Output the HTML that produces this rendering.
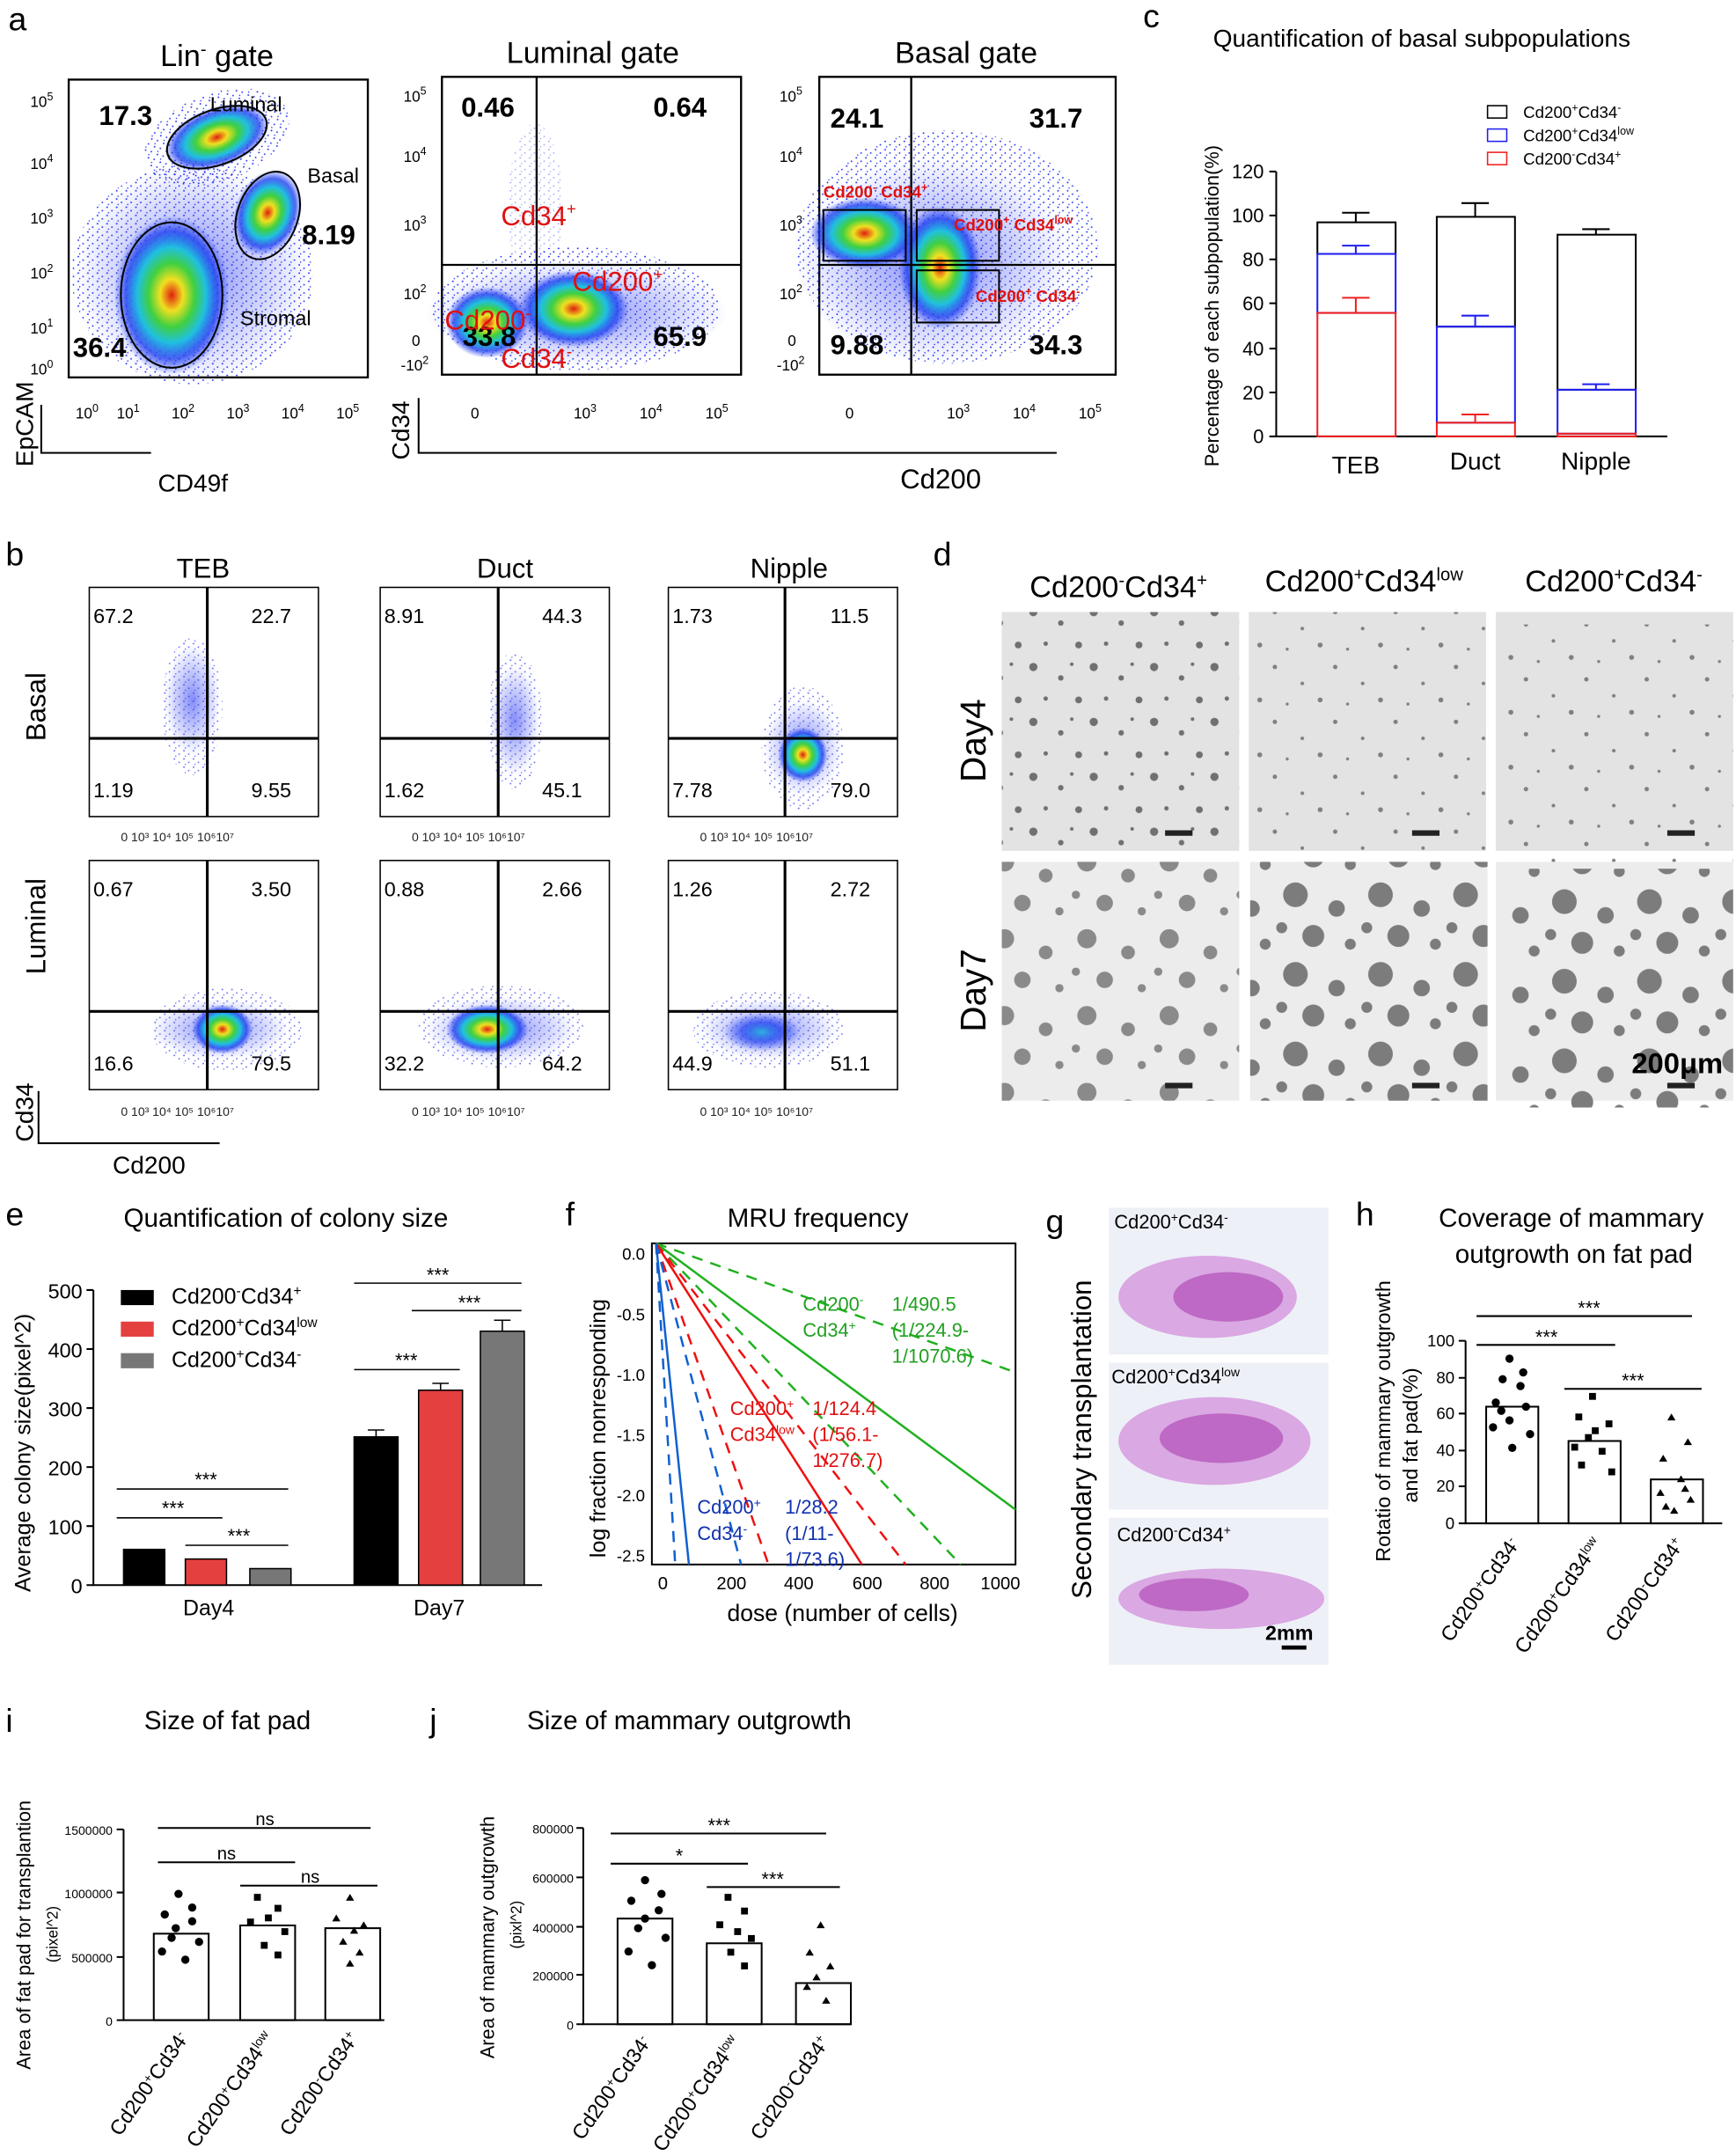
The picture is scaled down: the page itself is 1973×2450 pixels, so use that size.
<!DOCTYPE html>
<html><head><meta charset="utf-8"><style>
html,body{margin:0;padding:0;background:#fff}
svg{display:block}
text{font-family:"Liberation Sans",Arial,sans-serif}
</style></head><body>
<svg width="1973" height="2450" viewBox="0 0 1265 1571" xmlns="http://www.w3.org/2000/svg">
<defs>
<radialGradient id="hm"><stop offset="0" stop-color="#e02010"/><stop offset="0.2" stop-color="#f0e020"/><stop offset="0.4" stop-color="#40d040"/><stop offset="0.6" stop-color="#20c0e0"/><stop offset="0.8" stop-color="#2040f0" stop-opacity="0.8"/><stop offset="1" stop-color="#2040f0" stop-opacity="0"/></radialGradient>
<radialGradient id="hmb"><stop offset="0" stop-color="#30b0e0"/><stop offset="0.5" stop-color="#2040f0" stop-opacity="0.7"/><stop offset="1" stop-color="#2040f0" stop-opacity="0"/></radialGradient>
<radialGradient id="sp"><stop offset="0" stop-color="#2030f0" stop-opacity="0.55"/><stop offset="1" stop-color="#2030f0" stop-opacity="0"/></radialGradient>
<pattern id="spk" width="7" height="6" patternUnits="userSpaceOnUse"><g fill="#2030f0"><circle cx="1" cy="1" r="0.6"/><circle cx="4.5" cy="3.5" r="0.6"/><circle cx="2" cy="5" r="0.5"/></g></pattern>
<pattern id="d4" width="44" height="40" patternUnits="userSpaceOnUse"><g fill="#707070"><circle cx="5" cy="6" r="3"/><circle cx="25" cy="14" r="2"/><circle cx="38" cy="30" r="2.5"/><circle cx="14" cy="29" r="1.6"/><circle cx="33" cy="4" r="1.3"/></g></pattern>
<pattern id="d4b" width="44" height="40" patternUnits="userSpaceOnUse"><g fill="#808080"><circle cx="5" cy="6" r="1.6"/><circle cx="25" cy="18" r="1.3"/><circle cx="38" cy="30" r="1.8"/><circle cx="14" cy="33" r="1.1"/></g></pattern>
<pattern id="d7" width="60" height="56" patternUnits="userSpaceOnUse"><g fill="#8a8a8a"><circle cx="12" cy="12" r="7"/><circle cx="42" cy="22" r="5"/><circle cx="25" cy="42" r="6"/><circle cx="52" cy="48" r="3"/><circle cx="4" cy="36" r="3"/></g></pattern>
<pattern id="d7b" width="62" height="58" patternUnits="userSpaceOnUse"><g fill="#7c7c7c"><circle cx="14" cy="14" r="9"/><circle cx="44" cy="24" r="6"/><circle cx="27" cy="44" r="8"/><circle cx="54" cy="50" r="4"/><circle cx="4" cy="38" r="4"/></g></pattern>
</defs>
<rect width="1265" height="1571" fill="#fff"/>
<g font-size="24">
<text x="6" y="22">a</text><text x="833" y="20">c</text><text x="4" y="412">b</text><text x="680" y="412">d</text>
<text x="4" y="893">e</text><text x="412" y="893">f</text><text x="762" y="898">g</text><text x="988" y="893">h</text>
<text x="4" y="1262">i</text><text x="313" y="1262">j</text></g>

<!-- Panel a -->
<g font-size="22" text-anchor="middle"><text x="158" y="48">Lin<tspan font-size="13" dy="-8">-</tspan><tspan dy="8"> gate</tspan></text><text x="432" y="46">Luminal gate</text><text x="704" y="46">Basal gate</text></g>
<ellipse cx="140" cy="200" rx="88" ry="80" fill="url(#spk)"/>
<ellipse cx="158" cy="100" rx="55" ry="32" transform="rotate(-20 158 100)" fill="url(#spk)"/>
<ellipse cx="140" cy="200" rx="85" ry="80" fill="url(#sp)"/>
<ellipse cx="125" cy="215" rx="42" ry="58" fill="url(#hm)"/>
<ellipse cx="158" cy="100" rx="40" ry="22" transform="rotate(-20 158 100)" fill="url(#hm)"/>
<ellipse cx="195" cy="155" rx="24" ry="32" transform="rotate(20 195 155)" fill="url(#hm)"/>
<g fill="none" stroke="#000" stroke-width="1.5"><rect x="50" y="58" width="218" height="217"/><rect x="322" y="56" width="218" height="217"/><rect x="597" y="56" width="216" height="217"/></g>
<g fill="none" stroke="#000" stroke-width="1.3"><ellipse cx="158" cy="100" rx="38" ry="20" transform="rotate(-20 158 100)"/><ellipse cx="195" cy="157" rx="22" ry="33" transform="rotate(20 195 157)"/><ellipse cx="125" cy="215" rx="37" ry="53"/></g>
<g font-size="20" font-weight="bold"><text x="72" y="91">17.3</text><text x="220" y="178">8.19</text><text x="53" y="260">36.4</text></g>
<g font-size="15"><text x="153" y="81">Luminal</text><text x="224" y="133">Basal</text><text x="175" y="237">Stromal</text></g>
<g font-size="11"><text x="22" y="78">10<tspan dy="-5" font-size="8">5</tspan></text><text x="22" y="123">10<tspan dy="-5" font-size="8">4</tspan></text><text x="22" y="163">10<tspan dy="-5" font-size="8">3</tspan></text><text x="22" y="203">10<tspan dy="-5" font-size="8">2</tspan></text><text x="22" y="243">10<tspan dy="-5" font-size="8">1</tspan></text><text x="22" y="273">10<tspan dy="-5" font-size="8">0</tspan></text>
<text x="55" y="305">10<tspan dy="-5" font-size="8">0</tspan></text><text x="85" y="305">10<tspan dy="-5" font-size="8">1</tspan></text><text x="125" y="305">10<tspan dy="-5" font-size="8">2</tspan></text><text x="165" y="305">10<tspan dy="-5" font-size="8">3</tspan></text><text x="205" y="305">10<tspan dy="-5" font-size="8">4</tspan></text><text x="245" y="305">10<tspan dy="-5" font-size="8">5</tspan></text></g>
<g stroke="#000" stroke-width="1.3" fill="none"><path d="M30 295 V330 H110"/><path d="M305 290 V330 H770"/></g>
<text x="24" y="340" font-size="18" transform="rotate(-90 24 340)">EpCAM</text><text x="115" y="358" font-size="18">CD49f</text>
<text x="298" y="335" font-size="18" transform="rotate(-90 298 335)">Cd34</text><text x="656" y="356" font-size="20">Cd200</text>
<!-- plot2 -->
<ellipse cx="420" cy="225" rx="105" ry="45" fill="url(#spk)"/>
<ellipse cx="390" cy="150" rx="20" ry="60" fill="url(#spk)" opacity="0.4"/>
<ellipse cx="420" cy="228" rx="110" ry="38" fill="url(#sp)"/><ellipse cx="355" cy="235" rx="30" ry="26" fill="url(#hm)"/><ellipse cx="418" cy="225" rx="40" ry="28" fill="url(#hm)"/>
<g stroke="#000" stroke-width="1.5"><line x1="322" y1="193" x2="540" y2="193"/><line x1="391" y1="56" x2="391" y2="273"/></g>
<g font-size="20" font-weight="bold"><text x="336" y="85">0.46</text><text x="476" y="85">0.64</text><text x="337" y="252">33.8</text><text x="476" y="252">65.9</text></g>
<g font-size="20" fill="#e01010"><text x="365" y="164">Cd34<tspan font-size="12" dy="-8">+</tspan></text><text x="324" y="240">Cd200<tspan font-size="12" dy="-8">-</tspan></text><text x="417" y="212">Cd200<tspan font-size="12" dy="-8">+</tspan></text><text x="365" y="268">Cd34<tspan font-size="12" dy="-8">-</tspan></text></g>
<g font-size="11"><text x="294" y="74">10<tspan dy="-5" font-size="8">5</tspan></text><text x="294" y="118">10<tspan dy="-5" font-size="8">4</tspan></text><text x="294" y="168">10<tspan dy="-5" font-size="8">3</tspan></text><text x="294" y="218">10<tspan dy="-5" font-size="8">2</tspan></text><text x="300" y="252">0</text><text x="292" y="270">-10<tspan dy="-5" font-size="8">2</tspan></text>
<text x="343" y="305">0</text><text x="418" y="305">10<tspan dy="-5" font-size="8">3</tspan></text><text x="466" y="305">10<tspan dy="-5" font-size="8">4</tspan></text><text x="514" y="305">10<tspan dy="-5" font-size="8">5</tspan></text>
<text x="568" y="74">10<tspan dy="-5" font-size="8">5</tspan></text><text x="568" y="118">10<tspan dy="-5" font-size="8">4</tspan></text><text x="568" y="168">10<tspan dy="-5" font-size="8">3</tspan></text><text x="568" y="218">10<tspan dy="-5" font-size="8">2</tspan></text><text x="574" y="252">0</text><text x="566" y="270">-10<tspan dy="-5" font-size="8">2</tspan></text>
<text x="616" y="305">0</text><text x="690" y="305">10<tspan dy="-5" font-size="8">3</tspan></text><text x="738" y="305">10<tspan dy="-5" font-size="8">4</tspan></text><text x="786" y="305">10<tspan dy="-5" font-size="8">5</tspan></text></g>
<!-- plot3 -->
<ellipse cx="690" cy="180" rx="110" ry="85" fill="url(#spk)"/>
<ellipse cx="680" cy="190" rx="100" ry="75" fill="url(#sp)"/><ellipse cx="630" cy="170" rx="40" ry="26" fill="url(#hm)"/><ellipse cx="685" cy="195" rx="30" ry="45" fill="url(#hm)"/>
<g stroke="#000" stroke-width="1.5"><line x1="597" y1="193" x2="813" y2="193"/><line x1="664" y1="56" x2="664" y2="273"/></g>
<g fill="none" stroke="#000" stroke-width="1.3"><rect x="600" y="153" width="60" height="37"/><rect x="668" y="153" width="60" height="37"/><rect x="668" y="197" width="60" height="38"/></g>
<g font-size="20" font-weight="bold"><text x="605" y="93">24.1</text><text x="750" y="93">31.7</text><text x="605" y="258">9.88</text><text x="750" y="258">34.3</text></g>
<g font-size="12" font-weight="bold" fill="#e01010"><text x="600" y="144">Cd200<tspan font-size="8" dy="-5">-</tspan><tspan dy="5"> Cd34</tspan><tspan font-size="8" dy="-5">+</tspan></text><text x="695" y="168">Cd200<tspan font-size="8" dy="-5">+</tspan><tspan dy="5"> Cd34</tspan><tspan font-size="8" dy="-5">low</tspan></text><text x="711" y="220">Cd200<tspan font-size="8" dy="-5">+</tspan><tspan dy="5"> Cd34</tspan><tspan font-size="8" dy="-5">-</tspan></text></g>

<!-- Panel c -->
<text x="884" y="34" font-size="18">Quantification of basal subpopulations</text>
<g font-size="12"><rect x="1084" y="77" width="14" height="9" fill="none" stroke="#000"/><text x="1110" y="86">Cd200<tspan font-size="8" dy="-5">+</tspan><tspan dy="5">Cd34</tspan><tspan font-size="8" dy="-5">-</tspan></text>
<rect x="1084" y="94" width="14" height="9" fill="none" stroke="#2020f0"/><text x="1110" y="103">Cd200<tspan font-size="8" dy="-5">+</tspan><tspan dy="5">Cd34</tspan><tspan font-size="8" dy="-5">low</tspan></text>
<rect x="1084" y="111" width="14" height="9" fill="none" stroke="#f02020"/><text x="1110" y="120">Cd200<tspan font-size="8" dy="-5">-</tspan><tspan dy="5">Cd34</tspan><tspan font-size="8" dy="-5">+</tspan></text></g>
<text x="888" y="340" font-size="14" transform="rotate(-90 888 340)">Percentage of each subpopulation(%)</text>
<g stroke="#000" stroke-width="1.3" fill="none"><path d="M930 125 V318 H1215"/><path d="M925 125h5M925 157h5M925 189h5M925 221h5M925 254h5M925 286h5M925 318h5"/></g>
<g font-size="14" text-anchor="end"><text x="921" y="130">120</text><text x="921" y="162">100</text><text x="921" y="194">80</text><text x="921" y="226">60</text><text x="921" y="259">40</text><text x="921" y="291">20</text><text x="921" y="323">0</text></g>
<g fill="none" stroke-width="1.3">
<rect x="960" y="162" width="57" height="23" stroke="#000"/><rect x="960" y="185" width="57" height="43" stroke="#2020f0"/><rect x="960" y="228" width="57" height="90" stroke="#f02020"/>
<rect x="1047" y="158" width="57" height="80" stroke="#000"/><rect x="1047" y="238" width="57" height="70" stroke="#2020f0"/><rect x="1047" y="308" width="57" height="10" stroke="#f02020"/>
<rect x="1135" y="171" width="57" height="113" stroke="#000"/><rect x="1135" y="284" width="57" height="32" stroke="#2020f0"/><rect x="1135" y="316" width="57" height="2" stroke="#f02020"/>
<path d="M988 162V155M978 155h20M1075 158V148M1065 148h20M1163 171V167M1153 167h20" stroke="#000"/>
<path d="M988 185V179M978 179h20M1075 238V230M1065 230h20M1163 284V280M1153 280h20" stroke="#2020f0"/>
<path d="M988 228V217M978 217h20M1075 308V302M1065 302h20" stroke="#f02020"/></g>
<g font-size="18" text-anchor="middle"><text x="988" y="345">TEB</text><text x="1075" y="342">Duct</text><text x="1163" y="342">Nipple</text></g>

<!-- Panel b -->
<g font-size="20" text-anchor="middle"><text x="148" y="421">TEB</text><text x="368" y="421">Duct</text><text x="575" y="421">Nipple</text></g>
<text x="33" y="540" font-size="20" transform="rotate(-90 33 540)">Basal</text><text x="33" y="710" font-size="20" transform="rotate(-90 33 710)">Luminal</text>
<ellipse cx="140" cy="515" rx="22" ry="50" fill="url(#spk)" opacity="0.7"/>
<ellipse cx="375" cy="525" rx="20" ry="50" fill="url(#spk)" opacity="0.7"/>
<ellipse cx="585" cy="545" rx="30" ry="45" fill="url(#spk)" opacity="0.7"/>
<ellipse cx="165" cy="750" rx="55" ry="30" fill="url(#spk)" opacity="0.7"/>
<ellipse cx="365" cy="748" rx="60" ry="30" fill="url(#spk)" opacity="0.7"/>
<ellipse cx="560" cy="750" rx="55" ry="28" fill="url(#spk)" opacity="0.7"/>
<ellipse cx="140" cy="510" rx="20" ry="40" fill="url(#sp)"/>
<ellipse cx="375" cy="525" rx="18" ry="40" fill="url(#sp)"/>
<ellipse cx="585" cy="545" rx="28" ry="35" fill="url(#sp)"/><ellipse cx="585" cy="550" rx="18" ry="20" fill="url(#hm)"/>
<ellipse cx="160" cy="750" rx="50" ry="22" fill="url(#sp)"/><ellipse cx="162" cy="750" rx="22" ry="18" fill="url(#hm)"/>
<ellipse cx="365" cy="750" rx="55" ry="24" fill="url(#sp)"/><ellipse cx="355" cy="750" rx="30" ry="18" fill="url(#hm)"/>
<ellipse cx="560" cy="750" rx="50" ry="22" fill="url(#sp)"/><ellipse cx="555" cy="752" rx="28" ry="14" fill="url(#hmb)"/>
<g fill="none" stroke="#000" stroke-width="1">
<rect x="65" y="428" width="167" height="167"/><rect x="277" y="428" width="167" height="167"/><rect x="487" y="428" width="167" height="167"/>
<rect x="65" y="627" width="167" height="167"/><rect x="277" y="627" width="167" height="167"/><rect x="487" y="627" width="167" height="167"/></g>
<g stroke="#000" stroke-width="2">
<path d="M65 538H232M151 428V595M277 538H444M363 428V595M487 538H654M572 428V595"/>
<path d="M65 737H232M151 627V794M277 737H444M363 627V794M487 737H654M572 627V794"/></g>
<g font-size="15">
<text x="68" y="454">67.2</text><text x="183" y="454">22.7</text><text x="68" y="581">1.19</text><text x="183" y="581">9.55</text>
<text x="280" y="454">8.91</text><text x="395" y="454">44.3</text><text x="280" y="581">1.62</text><text x="395" y="581">45.1</text>
<text x="490" y="454">1.73</text><text x="605" y="454">11.5</text><text x="490" y="581">7.78</text><text x="605" y="581">79.0</text>
<text x="68" y="653">0.67</text><text x="183" y="653">3.50</text><text x="68" y="780">16.6</text><text x="183" y="780">79.5</text>
<text x="280" y="653">0.88</text><text x="395" y="653">2.66</text><text x="280" y="780">32.2</text><text x="395" y="780">64.2</text>
<text x="490" y="653">1.26</text><text x="605" y="653">2.72</text><text x="490" y="780">44.9</text><text x="605" y="780">51.1</text></g>
<g font-size="9" fill="#222">
<text x="88" y="613">0   10³  10⁴  10⁵ 10⁶10⁷</text><text x="300" y="613">0   10³  10⁴  10⁵ 10⁶10⁷</text><text x="510" y="613">0   10³  10⁴  10⁵ 10⁶10⁷</text>
<text x="88" y="813">0   10³  10⁴  10⁵ 10⁶10⁷</text><text x="300" y="813">0   10³  10⁴  10⁵ 10⁶10⁷</text><text x="510" y="813">0   10³  10⁴  10⁵ 10⁶10⁷</text></g>
<g stroke="#000" stroke-width="1.3" fill="none"><path d="M28 795V833H160"/></g>
<text x="24" y="832" font-size="18" transform="rotate(-90 24 832)">Cd34</text><text x="82" y="855" font-size="18">Cd200</text>

<!-- Panel d -->
<g font-size="22" text-anchor="middle"><text x="815" y="435">Cd200<tspan font-size="13" dy="-8">-</tspan><tspan dy="8">Cd34</tspan><tspan font-size="13" dy="-8">+</tspan></text><text x="994" y="431">Cd200<tspan font-size="13" dy="-8">+</tspan><tspan dy="8">Cd34</tspan><tspan font-size="13" dy="-8">low</tspan></text><text x="1176" y="431">Cd200<tspan font-size="13" dy="-8">+</tspan><tspan dy="8">Cd34</tspan><tspan font-size="13" dy="-8">-</tspan></text></g>
<text x="718" y="570" font-size="26" transform="rotate(-90 718 570)">Day4</text><text x="718" y="752" font-size="26" transform="rotate(-90 718 752)">Day7</text>
<rect x="730" y="446" width="173" height="174" fill="#e3e3e3"/><rect x="730" y="446" width="173" height="174" fill="url(#d4)"/>
<rect x="910" y="446" width="173" height="174" fill="#e3e3e3"/><rect x="910" y="446" width="173" height="174" fill="url(#d4b)"/>
<rect x="1090" y="446" width="175" height="174" fill="#e3e3e3"/><rect x="1090" y="446" width="175" height="174" fill="url(#d4b)" transform="translate(7 9)"/>
<rect x="730" y="628" width="173" height="174" fill="#ececec"/><rect x="730" y="628" width="173" height="174" fill="url(#d7)"/>
<rect x="911" y="628" width="173" height="174" fill="#ececec"/><rect x="911" y="628" width="173" height="174" fill="url(#d7b)"/>
<rect x="1090" y="628" width="175" height="174" fill="#ececec"/><rect x="1090" y="628" width="175" height="174" fill="url(#d7b)" transform="translate(10 5)"/>
<rect x="1263" y="440" width="10" height="370" fill="#fff"/>
<g fill="#222"><rect x="849" y="605" width="20" height="4"/><rect x="1029" y="605" width="20" height="4"/><rect x="1215" y="605" width="20" height="4"/><rect x="849" y="789" width="20" height="4"/><rect x="1029" y="789" width="20" height="4"/><rect x="1215" y="789" width="20" height="4"/></g>
<text x="1189" y="782" font-size="21" font-weight="bold">200μm</text>

<!-- Panel e -->
<text x="90" y="894" font-size="19">Quantification of colony size</text>
<text x="22" y="1160" font-size="16" transform="rotate(-90 22 1160)">Average colony size(pixel^2)</text>
<g stroke="#000" stroke-width="1.3" fill="none"><path d="M68 940V1155H395"/><path d="M63 940h5M63 983h5M63 1026h5M63 1069h5M63 1112h5M63 1155h5"/></g>
<g font-size="15" text-anchor="end"><text x="60" y="946">500</text><text x="60" y="989">400</text><text x="60" y="1032">300</text><text x="60" y="1075">200</text><text x="60" y="1118">100</text><text x="60" y="1161">0</text></g>
<g stroke="#000" stroke-width="1"><rect x="90" y="1129" width="30" height="26" fill="#000"/><rect x="135" y="1136" width="30" height="19" fill="#e54040"/><rect x="182" y="1143" width="30" height="12" fill="#777"/>
<rect x="258" y="1047" width="32" height="108" fill="#000"/><rect x="305" y="1013" width="32" height="142" fill="#e54040"/><rect x="350" y="970" width="32" height="185" fill="#777"/>
<path d="M274 1047v-5M268 1042h12M321 1013v-5M315 1008h12M366 970v-8M360 962h12" fill="none"/>
<path d="M85 1085H210M85 1106H162M135 1126H210M258 998H335M258 935H380M300 955H380"/></g>
<g font-size="14" text-anchor="middle"><text x="150" y="1083">***</text><text x="126" y="1104">***</text><text x="174" y="1124">***</text><text x="296" y="996">***</text><text x="319" y="934">***</text><text x="342" y="954">***</text></g>
<g font-size="16"><text x="152" y="1177" text-anchor="middle">Day4</text><text x="320" y="1177" text-anchor="middle">Day7</text></g>
<g font-size="16"><rect x="88" y="940" width="24" height="11" fill="#000"/><text x="125" y="950">Cd200<tspan font-size="10" dy="-6">-</tspan><tspan dy="6">Cd34</tspan><tspan font-size="10" dy="-6">+</tspan></text>
<rect x="88" y="963" width="24" height="11" fill="#e54040"/><text x="125" y="973">Cd200<tspan font-size="10" dy="-6">+</tspan><tspan dy="6">Cd34</tspan><tspan font-size="10" dy="-6">low</tspan></text>
<rect x="88" y="986" width="24" height="11" fill="#777"/><text x="125" y="996">Cd200<tspan font-size="10" dy="-6">+</tspan><tspan dy="6">Cd34</tspan><tspan font-size="10" dy="-6">-</tspan></text></g>

<!-- Panel f -->
<text x="530" y="894" font-size="19">MRU frequency</text>
<rect x="475" y="906" width="265" height="234" fill="none" stroke="#000" stroke-width="1.3"/>
<text x="441" y="1135" font-size="16" transform="rotate(-90 441 1135)">log fraction nonresponding</text>
<g font-size="12" text-anchor="end"><text x="470" y="918">0.0</text><text x="470" y="962">-0.5</text><text x="470" y="1006">-1.0</text><text x="470" y="1050">-1.5</text><text x="470" y="1094">-2.0</text><text x="470" y="1138">-2.5</text></g>
<g font-size="13" text-anchor="middle"><text x="483" y="1158">0</text><text x="533" y="1158">200</text><text x="582" y="1158">400</text><text x="632" y="1158">600</text><text x="681" y="1158">800</text><text x="729" y="1158">1000</text></g>
<text x="614" y="1181" font-size="17" text-anchor="middle">dose (number of cells)</text>
<g fill="none" stroke-width="1.6">
<line x1="478" y1="906" x2="740" y2="1100" stroke="#20b020"/><path d="M478 906L740 1000M478 906L700 1140" stroke="#20b020" stroke-dasharray="8 6"/>
<line x1="478" y1="906" x2="628" y2="1140" stroke="#f01010"/><path d="M478 906L560 1140M478 906L660 1140" stroke="#f01010" stroke-dasharray="8 6"/>
<line x1="478" y1="906" x2="502" y2="1140" stroke="#1060d0"/><path d="M478 906L492 1140M478 906L540 1140" stroke="#1060d0" stroke-dasharray="8 6"/></g>
<g font-size="14"><g fill="#20a020"><text x="585" y="955">Cd200<tspan font-size="9" dy="-5">-</tspan></text><text x="585" y="974">Cd34<tspan font-size="9" dy="-5">+</tspan></text><text x="650" y="955">1/490.5</text><text x="650" y="974">(1/224.9-</text><text x="650" y="993">1/1070.6)</text></g>
<g fill="#e01010"><text x="532" y="1031">Cd200<tspan font-size="9" dy="-5">+</tspan></text><text x="532" y="1050">Cd34<tspan font-size="9" dy="-5">low</tspan></text><text x="592" y="1031">1/124.4</text><text x="592" y="1050">(1/56.1-</text><text x="592" y="1069">1/276.7)</text></g>
<g fill="#1030b0"><text x="508" y="1103">Cd200<tspan font-size="9" dy="-5">+</tspan></text><text x="508" y="1122">Cd34<tspan font-size="9" dy="-5">-</tspan></text><text x="572" y="1103">1/28.2</text><text x="572" y="1122">(1/11-</text><text x="572" y="1141">1/73.6)</text></g></g>

<!-- Panel g -->
<text x="795" y="1165" font-size="20" transform="rotate(-90 795 1165)">Secondary  transplantation</text>
<g><rect x="808" y="880" width="160" height="107" fill="#eef0f8"/><rect x="808" y="993" width="160" height="107" fill="#eef0f8"/><rect x="808" y="1106" width="160" height="107" fill="#eef0f8"/>
<ellipse cx="880" cy="945" rx="65" ry="30" fill="#c050c8" opacity="0.45"/><ellipse cx="895" cy="945" rx="40" ry="18" fill="#a02aa8" opacity="0.5"/>
<ellipse cx="885" cy="1050" rx="70" ry="32" fill="#c050c8" opacity="0.45"/><ellipse cx="890" cy="1048" rx="45" ry="18" fill="#a02aa8" opacity="0.5"/>
<ellipse cx="890" cy="1165" rx="75" ry="22" fill="#c050c8" opacity="0.45"/><ellipse cx="870" cy="1162" rx="40" ry="12" fill="#a02aa8" opacity="0.5"/></g>
<g font-size="14"><text x="812" y="895">Cd200<tspan font-size="9" dy="-5">+</tspan><tspan dy="5">Cd34</tspan><tspan font-size="9" dy="-5">-</tspan></text><text x="810" y="1008">Cd200<tspan font-size="9" dy="-5">+</tspan><tspan dy="5">Cd34</tspan><tspan font-size="9" dy="-5">low</tspan></text><text x="814" y="1123">Cd200<tspan font-size="9" dy="-5">-</tspan><tspan dy="5">Cd34</tspan><tspan font-size="9" dy="-5">+</tspan></text></g>
<text x="922" y="1195" font-size="15" font-weight="bold">2mm</text><rect x="934" y="1199" width="18" height="3" fill="#000"/>

<!-- Panel h -->
<g font-size="19" text-anchor="middle"><text x="1145" y="894">Coverage of mammary</text><text x="1147" y="920">outgrowth on fat pad</text></g>
<text x="1013" y="1138" font-size="15" transform="rotate(-90 1013 1138)">Rotatio of mammary outgrowth</text><text x="1033" y="1095" font-size="15" transform="rotate(-90 1033 1095)">and fat pad(%)</text>
<g stroke="#000" stroke-width="1.3" fill="none"><path d="M1068 977V1110H1255"/><path d="M1063 977h5M1063 1004h5M1063 1030h5M1063 1057h5M1063 1083h5M1063 1110h5"/>
<rect x="1083" y="1025" width="38" height="85"/><rect x="1143" y="1050" width="38" height="60"/><rect x="1203" y="1078" width="38" height="32"/>
<path d="M1076 959H1233M1076 980H1177M1140 1012H1240"/></g>
<g font-size="12" text-anchor="end"><text x="1060" y="981">100</text><text x="1060" y="1008">80</text><text x="1060" y="1034">60</text><text x="1060" y="1061">40</text><text x="1060" y="1087">20</text><text x="1060" y="1114">0</text></g>
<g font-size="14" text-anchor="middle"><text x="1158" y="958">***</text><text x="1127" y="979">***</text><text x="1190" y="1011">***</text></g>
<g fill="#000"><circle cx="1100" cy="990" r="3"/><circle cx="1095" cy="1005" r="3"/><circle cx="1108" cy="1010" r="3"/><circle cx="1090" cy="1022" r="3"/><circle cx="1112" cy="1025" r="3"/><circle cx="1100" cy="1035" r="3"/><circle cx="1088" cy="1040" r="3"/><circle cx="1115" cy="1045" r="3"/><circle cx="1102" cy="1055" r="3"/><circle cx="1094" cy="1028" r="3"/><circle cx="1110" cy="1000" r="3"/>
<rect x="1158" y="1015" width="5" height="5"/><rect x="1148" y="1030" width="5" height="5"/><rect x="1170" y="1035" width="5" height="5"/><rect x="1155" y="1045" width="5" height="5"/><rect x="1165" y="1055" width="5" height="5"/><rect x="1150" y="1065" width="5" height="5"/><rect x="1172" y="1070" width="5" height="5"/><rect x="1160" y="1040" width="5" height="5"/><rect x="1145" y="1052" width="5" height="5"/>
<path d="M1218 1030l3 5h-6zM1230 1048l3 5h-6zM1212 1060l3 5h-6zM1225 1075l3 5h-6zM1210 1085l3 5h-6zM1232 1090l3 5h-6zM1220 1098l3 5h-6zM1214 1095l3 5h-6zM1228 1082l3 5h-6z"/></g>
<g font-size="15"><text transform="translate(1108 1125) rotate(-55)" text-anchor="end">Cd200<tspan font-size="9" dy="-5">+</tspan><tspan dy="5">Cd34</tspan><tspan font-size="9" dy="-5">-</tspan></text><text transform="translate(1168 1125) rotate(-55)" text-anchor="end">Cd200<tspan font-size="9" dy="-5">+</tspan><tspan dy="5">Cd34</tspan><tspan font-size="9" dy="-5">low</tspan></text><text transform="translate(1228 1125) rotate(-55)" text-anchor="end">Cd200<tspan font-size="9" dy="-5">-</tspan><tspan dy="5">Cd34</tspan><tspan font-size="9" dy="-5">+</tspan></text></g>

<!-- Panel i -->
<text x="105" y="1260" font-size="19">Size of fat pad</text>
<text x="22" y="1508" font-size="14" transform="rotate(-90 22 1508)">Area of fat pad for transplantion</text><text x="42" y="1430" font-size="11" transform="rotate(-90 42 1430)">(pixel^2)</text>
<g stroke="#000" stroke-width="1.3" fill="none"><path d="M90 1333V1472H280"/><path d="M85 1333h5M85 1379h5M85 1426h5M85 1472h5"/>
<rect x="112" y="1409" width="40" height="63"/><rect x="175" y="1403" width="40" height="69"/><rect x="237" y="1405" width="40" height="67"/>
<path d="M115 1332H270M115 1357H215M175 1374H275"/></g>
<g font-size="9" text-anchor="end"><text x="82" y="1337">1500000</text><text x="82" y="1383">1000000</text><text x="82" y="1430">500000</text><text x="82" y="1476">0</text></g>
<g font-size="13" text-anchor="middle"><text x="193" y="1330">ns</text><text x="165" y="1355">ns</text><text x="226" y="1372">ns</text></g>
<g fill="#000"><circle cx="130" cy="1380" r="3"/><circle cx="120" cy="1395" r="3"/><circle cx="140" cy="1400" r="3"/><circle cx="125" cy="1412" r="3"/><circle cx="145" cy="1415" r="3"/><circle cx="118" cy="1422" r="3"/><circle cx="135" cy="1428" r="3"/><circle cx="128" cy="1405" r="3"/><circle cx="140" cy="1390" r="3"/>
<rect x="185" y="1380" width="5" height="5"/><rect x="200" y="1388" width="5" height="5"/><rect x="180" y="1398" width="5" height="5"/><rect x="205" y="1405" width="5" height="5"/><rect x="190" y="1415" width="5" height="5"/><rect x="200" y="1422" width="5" height="5"/><rect x="193" y="1395" width="5" height="5"/>
<path d="M255 1380l3 5h-6zM245 1395l3 5h-6zM265 1400l3 5h-6zM250 1412l3 5h-6zM262 1420l3 5h-6zM255 1428l3 5h-6zM258 1404l3 5h-6z"/></g>
<g font-size="15"><text transform="translate(138 1485) rotate(-55)" text-anchor="end">Cd200<tspan font-size="9" dy="-5">+</tspan><tspan dy="5">Cd34</tspan><tspan font-size="9" dy="-5">-</tspan></text><text transform="translate(200 1485) rotate(-55)" text-anchor="end">Cd200<tspan font-size="9" dy="-5">+</tspan><tspan dy="5">Cd34</tspan><tspan font-size="9" dy="-5">low</tspan></text><text transform="translate(262 1485) rotate(-55)" text-anchor="end">Cd200<tspan font-size="9" dy="-5">-</tspan><tspan dy="5">Cd34</tspan><tspan font-size="9" dy="-5">+</tspan></text></g>

<!-- Panel j -->
<text x="384" y="1260" font-size="19">Size of mammary outgrowth</text>
<text x="360" y="1500" font-size="14" transform="rotate(-90 360 1500)">Area of mammary outgrowth</text><text x="380" y="1420" font-size="11" transform="rotate(-90 380 1420)">(pixl^2)</text>
<g stroke="#000" stroke-width="1.3" fill="none"><path d="M425 1332V1475H620"/><path d="M420 1332h5M420 1368h5M420 1404h5M420 1439h5M420 1475h5"/>
<rect x="450" y="1398" width="40" height="77"/><rect x="515" y="1416" width="40" height="59"/><rect x="580" y="1445" width="40" height="30"/>
<path d="M445 1336H602M445 1358H545M515 1375H612"/></g>
<g font-size="9" text-anchor="end"><text x="418" y="1336">800000</text><text x="418" y="1372">600000</text><text x="418" y="1408">400000</text><text x="418" y="1443">200000</text><text x="418" y="1479">0</text></g>
<g font-size="14" text-anchor="middle"><text x="524" y="1335">***</text><text x="495" y="1357">*</text><text x="563" y="1374">***</text></g>
<g fill="#000"><circle cx="470" cy="1370" r="3"/><circle cx="460" cy="1385" r="3"/><circle cx="480" cy="1392" r="3"/><circle cx="465" cy="1405" r="3"/><circle cx="485" cy="1412" r="3"/><circle cx="458" cy="1422" r="3"/><circle cx="475" cy="1432" r="3"/><circle cx="470" cy="1398" r="3"/><circle cx="482" cy="1380" r="3"/>
<rect x="528" y="1380" width="5" height="5"/><rect x="540" y="1390" width="5" height="5"/><rect x="522" y="1400" width="5" height="5"/><rect x="545" y="1410" width="5" height="5"/><rect x="530" y="1420" width="5" height="5"/><rect x="540" y="1430" width="5" height="5"/><rect x="535" y="1405" width="5" height="5"/>
<path d="M598 1400l3 5h-6zM590 1420l3 5h-6zM605 1430l3 5h-6zM588 1445l3 5h-6zM602 1455l3 5h-6zM595 1438l3 5h-6z"/></g>
<g font-size="15"><text transform="translate(475 1488) rotate(-55)" text-anchor="end">Cd200<tspan font-size="9" dy="-5">+</tspan><tspan dy="5">Cd34</tspan><tspan font-size="9" dy="-5">-</tspan></text><text transform="translate(540 1488) rotate(-55)" text-anchor="end">Cd200<tspan font-size="9" dy="-5">+</tspan><tspan dy="5">Cd34</tspan><tspan font-size="9" dy="-5">low</tspan></text><text transform="translate(605 1488) rotate(-55)" text-anchor="end">Cd200<tspan font-size="9" dy="-5">-</tspan><tspan dy="5">Cd34</tspan><tspan font-size="9" dy="-5">+</tspan></text></g>
</svg>
</body></html>
